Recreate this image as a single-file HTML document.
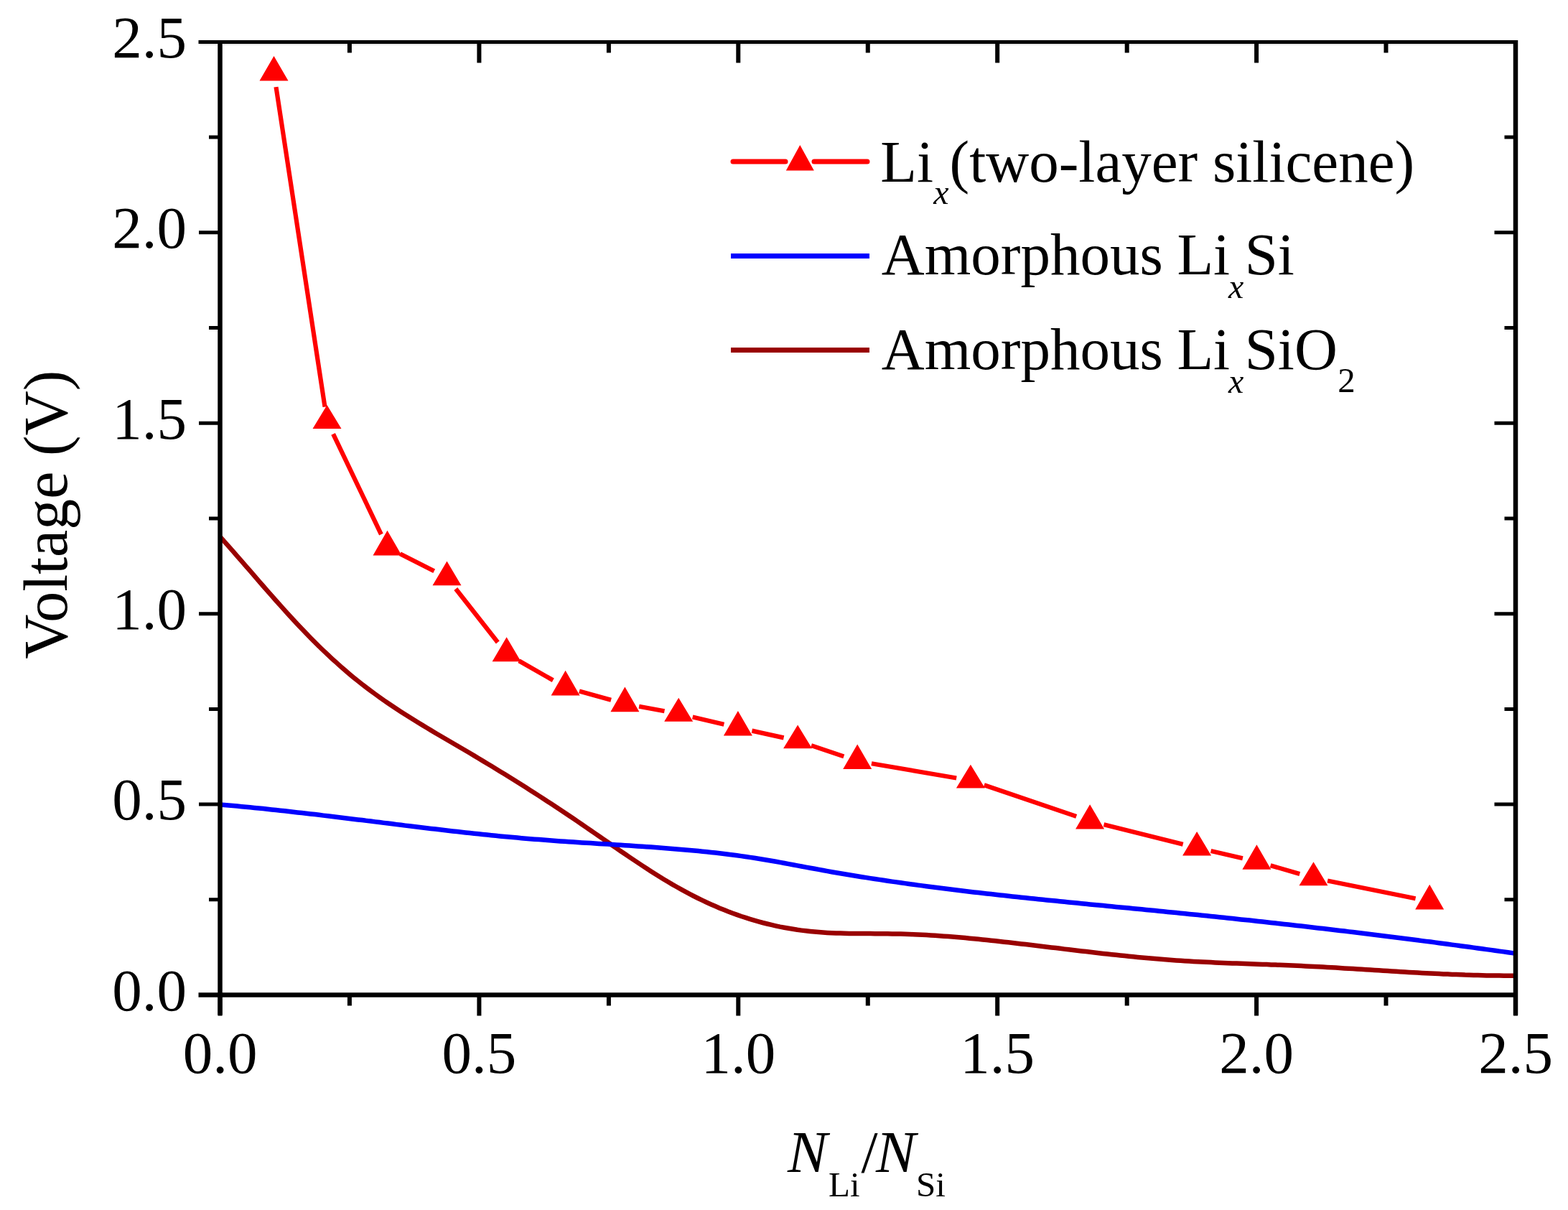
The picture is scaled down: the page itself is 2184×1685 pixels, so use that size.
<!DOCTYPE html><html><head><meta charset="utf-8"><title>Voltage vs N_Li/N_Si</title>
<style>html,body{margin:0;padding:0;background:#fff;}svg{display:block;}text{font-family:"Liberation Serif","Times New Roman",serif;fill:#000;}</style></head><body>
<svg width="2184" height="1685" viewBox="0 0 2184 1685">
<rect width="2184" height="1685" fill="#fff"/>
<defs><clipPath id="pc"><rect x="306.5" y="58.4" width="1804.5" height="1327.1"/></clipPath></defs>
<g clip-path="url(#pc)" fill="none" stroke-linejoin="round">
<path d="M306.5,747.5 312.5,754.2 318.5,760.9 324.5,767.7 330.5,774.6 336.5,781.4 342.5,788.3 348.5,795.2 354.5,802.2 360.5,809.1 366.5,816.0 372.5,822.8 378.5,829.7 384.5,836.5 390.5,843.2 396.5,849.9 402.5,856.5 408.5,863.0 414.5,869.5 420.5,875.8 426.5,882.1 432.5,888.2 438.5,894.3 444.5,900.2 450.5,906.0 456.5,911.7 462.5,917.3 468.5,922.7 474.5,928.1 480.5,933.3 486.5,938.4 492.5,943.4 498.5,948.2 504.5,953.0 510.5,957.6 516.5,962.1 522.5,966.5 528.5,970.8 534.5,975.1 540.5,979.2 546.5,983.3 552.5,987.3 558.5,991.2 564.5,995.0 570.5,998.8 576.5,1002.6 582.5,1006.3 588.5,1009.9 594.5,1013.5 600.5,1017.1 606.5,1020.7 612.5,1024.2 618.5,1027.7 624.5,1031.2 630.5,1034.7 636.5,1038.3 642.5,1041.8 648.5,1045.3 654.5,1048.8 660.5,1052.4 666.5,1056.0 672.5,1059.6 678.5,1063.2 684.5,1066.8 690.5,1070.5 696.5,1074.2 702.5,1077.8 708.5,1081.6 714.5,1085.3 720.5,1089.0 726.5,1092.8 732.5,1096.6 738.5,1100.4 744.5,1104.2 750.5,1108.1 756.5,1112.0 762.5,1115.9 768.5,1119.8 774.5,1123.8 780.5,1127.7 786.5,1131.7 792.5,1135.8 798.5,1139.8 804.5,1143.9 810.5,1148.0 816.5,1152.1 822.5,1156.2 828.5,1160.4 834.5,1164.5 840.5,1168.7 846.5,1172.8 852.5,1177.0 858.5,1181.1 864.5,1185.2 870.5,1189.3 876.5,1193.4 882.5,1197.4 888.5,1201.4 894.5,1205.4 900.5,1209.3 906.5,1213.2 912.5,1217.0 918.5,1220.7 924.5,1224.4 930.5,1228.0 936.5,1231.6 942.5,1235.0 948.5,1238.4 954.5,1241.7 960.5,1244.9 966.5,1248.0 972.5,1251.0 978.5,1253.9 984.5,1256.8 990.5,1259.5 996.5,1262.1 1002.5,1264.7 1008.5,1267.1 1014.5,1269.5 1020.5,1271.7 1026.5,1273.9 1032.5,1276.0 1038.5,1277.9 1044.5,1279.8 1050.5,1281.6 1056.5,1283.3 1062.5,1285.0 1068.5,1286.5 1074.5,1287.9 1080.5,1289.3 1086.5,1290.6 1092.5,1291.7 1098.5,1292.8 1104.5,1293.8 1110.5,1294.8 1116.5,1295.6 1122.5,1296.3 1128.5,1297.0 1134.5,1297.6 1140.5,1298.1 1146.5,1298.5 1152.5,1298.9 1158.5,1299.2 1164.5,1299.4 1170.5,1299.6 1176.5,1299.8 1182.5,1299.9 1188.5,1300.0 1194.5,1300.0 1200.5,1300.1 1206.5,1300.1 1212.5,1300.1 1218.5,1300.2 1224.5,1300.2 1230.5,1300.2 1236.5,1300.3 1242.5,1300.4 1248.5,1300.5 1254.5,1300.6 1260.5,1300.8 1266.5,1301.0 1272.5,1301.2 1278.5,1301.5 1284.5,1301.8 1290.5,1302.1 1296.5,1302.4 1302.5,1302.8 1308.5,1303.2 1314.5,1303.7 1320.5,1304.1 1326.5,1304.6 1332.5,1305.1 1338.5,1305.6 1344.5,1306.1 1350.5,1306.7 1356.5,1307.2 1362.5,1307.8 1368.5,1308.4 1374.5,1309.1 1380.5,1309.7 1386.5,1310.3 1392.5,1311.0 1398.5,1311.7 1404.5,1312.3 1410.5,1313.0 1416.5,1313.7 1422.5,1314.4 1428.5,1315.1 1434.5,1315.8 1440.5,1316.5 1446.5,1317.2 1452.5,1318.0 1458.5,1318.7 1464.5,1319.4 1470.5,1320.1 1476.5,1320.8 1482.5,1321.6 1488.5,1322.3 1494.5,1323.0 1500.5,1323.7 1506.5,1324.4 1512.5,1325.1 1518.5,1325.8 1524.5,1326.5 1530.5,1327.2 1536.5,1327.9 1542.5,1328.5 1548.5,1329.2 1554.5,1329.8 1560.5,1330.5 1566.5,1331.1 1572.5,1331.7 1578.5,1332.3 1584.5,1332.9 1590.5,1333.4 1596.5,1334.0 1602.5,1334.5 1608.5,1335.1 1614.5,1335.6 1620.5,1336.0 1626.5,1336.5 1632.5,1337.0 1638.5,1337.4 1644.5,1337.8 1650.5,1338.2 1656.5,1338.5 1662.5,1338.9 1668.5,1339.2 1674.5,1339.5 1680.5,1339.8 1686.5,1340.1 1692.5,1340.4 1698.5,1340.7 1704.5,1340.9 1710.5,1341.2 1716.5,1341.4 1722.5,1341.6 1728.5,1341.8 1734.5,1342.1 1740.5,1342.3 1746.5,1342.5 1752.5,1342.7 1758.5,1342.9 1764.5,1343.1 1770.5,1343.4 1776.5,1343.6 1782.5,1343.8 1788.5,1344.1 1794.5,1344.3 1800.5,1344.6 1806.5,1344.8 1812.5,1345.1 1818.5,1345.4 1824.5,1345.7 1830.5,1346.0 1836.5,1346.3 1842.5,1346.6 1848.5,1347.0 1854.5,1347.3 1860.5,1347.6 1866.5,1348.0 1872.5,1348.4 1878.5,1348.7 1884.5,1349.1 1890.5,1349.5 1896.5,1349.8 1902.5,1350.2 1908.5,1350.6 1914.5,1350.9 1920.5,1351.3 1926.5,1351.7 1932.5,1352.1 1938.5,1352.4 1944.5,1352.8 1950.5,1353.2 1956.5,1353.5 1962.5,1353.9 1968.5,1354.2 1974.5,1354.5 1980.5,1354.9 1986.5,1355.2 1992.5,1355.5 1998.5,1355.8 2004.5,1356.1 2010.5,1356.4 2016.5,1356.6 2022.5,1356.9 2028.5,1357.1 2034.5,1357.3 2040.5,1357.6 2046.5,1357.7 2052.5,1357.9 2058.5,1358.1 2064.5,1358.2 2070.5,1358.4 2076.5,1358.5 2082.5,1358.5 2088.5,1358.6 2094.5,1358.7 2100.5,1358.7 2106.5,1358.7 2111.0,1358.7" stroke="#990000" stroke-width="6.5"/>
<path d="M306.5,1120.5 312.5,1121.0 318.5,1121.6 324.5,1122.1 330.5,1122.6 336.5,1123.2 342.5,1123.8 348.5,1124.3 354.5,1124.9 360.5,1125.5 366.5,1126.1 372.5,1126.8 378.5,1127.4 384.5,1128.0 390.5,1128.7 396.5,1129.3 402.5,1130.0 408.5,1130.7 414.5,1131.4 420.5,1132.0 426.5,1132.7 432.5,1133.4 438.5,1134.1 444.5,1134.8 450.5,1135.6 456.5,1136.3 462.5,1137.0 468.5,1137.7 474.5,1138.5 480.5,1139.2 486.5,1139.9 492.5,1140.7 498.5,1141.4 504.5,1142.1 510.5,1142.9 516.5,1143.6 522.5,1144.4 528.5,1145.1 534.5,1145.9 540.5,1146.6 546.5,1147.3 552.5,1148.1 558.5,1148.8 564.5,1149.6 570.5,1150.3 576.5,1151.0 582.5,1151.7 588.5,1152.5 594.5,1153.2 600.5,1153.9 606.5,1154.6 612.5,1155.3 618.5,1156.0 624.5,1156.7 630.5,1157.4 636.5,1158.1 642.5,1158.7 648.5,1159.4 654.5,1160.0 660.5,1160.7 666.5,1161.3 672.5,1162.0 678.5,1162.6 684.5,1163.2 690.5,1163.8 696.5,1164.4 702.5,1165.0 708.5,1165.5 714.5,1166.1 720.5,1166.6 726.5,1167.2 732.5,1167.7 738.5,1168.2 744.5,1168.7 750.5,1169.1 756.5,1169.6 762.5,1170.1 768.5,1170.5 774.5,1170.9 780.5,1171.4 786.5,1171.8 792.5,1172.2 798.5,1172.6 804.5,1173.0 810.5,1173.4 816.5,1173.8 822.5,1174.1 828.5,1174.5 834.5,1174.9 840.5,1175.3 846.5,1175.6 852.5,1176.0 858.5,1176.4 864.5,1176.8 870.5,1177.2 876.5,1177.6 882.5,1178.0 888.5,1178.4 894.5,1178.8 900.5,1179.2 906.5,1179.6 912.5,1180.0 918.5,1180.5 924.5,1180.9 930.5,1181.4 936.5,1181.9 942.5,1182.4 948.5,1182.9 954.5,1183.4 960.5,1183.9 966.5,1184.5 972.5,1185.1 978.5,1185.7 984.5,1186.3 990.5,1186.9 996.5,1187.6 1002.5,1188.3 1008.5,1189.0 1014.5,1189.8 1020.5,1190.5 1026.5,1191.3 1032.5,1192.1 1038.5,1193.0 1044.5,1193.9 1050.5,1194.8 1056.5,1195.7 1062.5,1196.7 1068.5,1197.7 1074.5,1198.8 1080.5,1199.8 1086.5,1200.9 1092.5,1202.0 1098.5,1203.1 1104.5,1204.2 1110.5,1205.4 1116.5,1206.5 1122.5,1207.6 1128.5,1208.7 1134.5,1209.8 1140.5,1210.9 1146.5,1212.0 1152.5,1213.1 1158.5,1214.2 1164.5,1215.2 1170.5,1216.2 1176.5,1217.2 1182.5,1218.2 1188.5,1219.2 1194.5,1220.2 1200.5,1221.2 1206.5,1222.1 1212.5,1223.1 1218.5,1224.0 1224.5,1224.9 1230.5,1225.8 1236.5,1226.7 1242.5,1227.6 1248.5,1228.4 1254.5,1229.3 1260.5,1230.1 1266.5,1231.0 1272.5,1231.8 1278.5,1232.6 1284.5,1233.4 1290.5,1234.2 1296.5,1235.0 1302.5,1235.8 1308.5,1236.5 1314.5,1237.3 1320.5,1238.0 1326.5,1238.8 1332.5,1239.5 1338.5,1240.3 1344.5,1241.0 1350.5,1241.7 1356.5,1242.4 1362.5,1243.1 1368.5,1243.8 1374.5,1244.5 1380.5,1245.1 1386.5,1245.8 1392.5,1246.5 1398.5,1247.1 1404.5,1247.8 1410.5,1248.4 1416.5,1249.1 1422.5,1249.7 1428.5,1250.3 1434.5,1251.0 1440.5,1251.6 1446.5,1252.2 1452.5,1252.8 1458.5,1253.4 1464.5,1254.0 1470.5,1254.6 1476.5,1255.2 1482.5,1255.8 1488.5,1256.4 1494.5,1257.0 1500.5,1257.6 1506.5,1258.2 1512.5,1258.8 1518.5,1259.4 1524.5,1260.0 1530.5,1260.5 1536.5,1261.1 1542.5,1261.7 1548.5,1262.3 1554.5,1262.9 1560.5,1263.4 1566.5,1264.0 1572.5,1264.6 1578.5,1265.2 1584.5,1265.8 1590.5,1266.3 1596.5,1266.9 1602.5,1267.5 1608.5,1268.1 1614.5,1268.7 1620.5,1269.3 1626.5,1269.9 1632.5,1270.5 1638.5,1271.1 1644.5,1271.7 1650.5,1272.3 1656.5,1272.9 1662.5,1273.5 1668.5,1274.1 1674.5,1274.7 1680.5,1275.3 1686.5,1275.9 1692.5,1276.6 1698.5,1277.2 1704.5,1277.8 1710.5,1278.4 1716.5,1279.1 1722.5,1279.7 1728.5,1280.4 1734.5,1281.0 1740.5,1281.6 1746.5,1282.3 1752.5,1283.0 1758.5,1283.6 1764.5,1284.3 1770.5,1284.9 1776.5,1285.6 1782.5,1286.3 1788.5,1286.9 1794.5,1287.6 1800.5,1288.3 1806.5,1289.0 1812.5,1289.6 1818.5,1290.3 1824.5,1291.0 1830.5,1291.7 1836.5,1292.4 1842.5,1293.1 1848.5,1293.8 1854.5,1294.5 1860.5,1295.2 1866.5,1295.9 1872.5,1296.6 1878.5,1297.4 1884.5,1298.1 1890.5,1298.8 1896.5,1299.5 1902.5,1300.3 1908.5,1301.0 1914.5,1301.7 1920.5,1302.5 1926.5,1303.2 1932.5,1304.0 1938.5,1304.7 1944.5,1305.5 1950.5,1306.2 1956.5,1307.0 1962.5,1307.8 1968.5,1308.5 1974.5,1309.3 1980.5,1310.1 1986.5,1310.9 1992.5,1311.6 1998.5,1312.4 2004.5,1313.2 2010.5,1314.0 2016.5,1314.8 2022.5,1315.6 2028.5,1316.4 2034.5,1317.2 2040.5,1318.0 2046.5,1318.8 2052.5,1319.6 2058.5,1320.5 2064.5,1321.3 2070.5,1322.1 2076.5,1322.9 2082.5,1323.8 2088.5,1324.6 2094.5,1325.4 2100.5,1326.3 2106.5,1327.1 2111.0,1327.8" stroke="#0000ff" stroke-width="6.5"/>
</g>
<path d="M384.5,121.1L452.5,566.6M464.1,604.4L530.9,744.1M557.3,771.2L604.7,795.2M634.8,820.0L693.3,894.5M722.9,920.2L770.3,947.3M806.9,962.5L851.1,974.7M890.1,983.7L925.5,990.3M964.7,998.6L1008.4,1008.8M1047.4,1017.6L1091.6,1027.4M1130.0,1038.1L1175.3,1053.4M1213.9,1063.2L1332.2,1083.5M1370.8,1093.3L1499.2,1136.9M1537.5,1148.2L1647.7,1175.8M1686.6,1185.0L1730.9,1195.2M1769.6,1205.2L1810.3,1216.9M1849.1,1226.5L1971.6,1251.2" stroke="#ff0000" stroke-width="6.2" fill="none" stroke-linecap="butt"/>
<path d="M381.5,78.1L361.5,112.5L401.5,112.5ZM455.5,564.1L435.5,597.1L475.5,597.1ZM539.5,738.7L519.5,773.4L559.5,773.4ZM622.5,781.4L602.5,815.2L642.5,815.2ZM705.6,887.3L685.6,921.2L725.6,921.2ZM787.6,933.8L767.6,968.5L807.6,968.5ZM870.4,956.6L850.4,991.3L890.4,991.3ZM945.2,971.7L925.2,1004.7L965.2,1004.7ZM1027.9,989.9L1007.9,1024.6L1047.9,1024.6ZM1111.1,1009.6L1091.1,1042.3L1131.1,1042.3ZM1194.2,1036.4L1174.2,1071.1L1214.2,1071.1ZM1351.9,1064.8L1331.9,1097.5L1371.9,1097.5ZM1518.1,1120.2L1498.1,1154.5L1538.1,1154.5ZM1667.1,1157.9L1647.1,1191.5L1687.1,1191.5ZM1750.4,1176.3L1730.4,1210.8L1770.4,1210.8ZM1829.5,1200.2L1809.5,1233.2L1849.5,1233.2ZM1991.2,1231.7L1971.2,1266.4L2011.2,1266.4Z" fill="#ff0000"/>
<rect x="278.5" y="61" width="24" height="2" fill="#e8e8e8"/><rect x="311" y="61" width="1797" height="2" fill="#e8e8e8"/>
<g stroke="#000" fill="none">
<line x1="276.5" y1="58.4" x2="2114.0" y2="58.4" stroke-width="5"/>
<line x1="276.5" y1="1385.5" x2="2114.0" y2="1385.5" stroke-width="6.5"/>
<line x1="306.5" y1="55.9" x2="306.5" y2="1413.5" stroke-width="6.5"/>
<line x1="2111.0" y1="55.9" x2="2111.0" y2="1413.5" stroke-width="6.5"/>
<path d="M306.5,1385.5V1414.5M486.9,1385.5V1400.5M486.9,58.4V73.4M667.4,1385.5V1414.5M667.4,58.4V87.4M847.9,1385.5V1400.5M847.9,58.4V73.4M1028.3,1385.5V1414.5M1028.3,58.4V87.4M1208.8,1385.5V1400.5M1208.8,58.4V73.4M1389.2,1385.5V1414.5M1389.2,58.4V87.4M1569.7,1385.5V1400.5M1569.7,58.4V73.4M1750.1,1385.5V1414.5M1750.1,58.4V87.4M1930.5,1385.5V1400.5M1930.5,58.4V73.4M2111.0,1385.5V1414.5" stroke-width="6"/>
<path d="M306.5,1385.5H277.0M306.5,1252.8H291.0M2111.0,1252.8H2095.5M306.5,1120.1H277.0M2111.0,1120.1H2081.5M306.5,987.4H291.0M2111.0,987.4H2095.5M306.5,854.7H277.0M2111.0,854.7H2081.5M306.5,722.0H291.0M2111.0,722.0H2095.5M306.5,589.2H277.0M2111.0,589.2H2081.5M306.5,456.5H291.0M2111.0,456.5H2095.5M306.5,323.8H277.0M2111.0,323.8H2081.5M306.5,191.1H291.0M2111.0,191.1H2095.5M306.5,58.4H277.0" stroke-width="5"/>
</g>
<text x="306.5" y="1494.4" font-size="83" text-anchor="middle">0.0</text>
<text x="260.0" y="1406.8" font-size="83" text-anchor="end">0.0</text>
<text x="667.4" y="1494.4" font-size="83" text-anchor="middle">0.5</text>
<text x="260.0" y="1141.4" font-size="83" text-anchor="end">0.5</text>
<text x="1028.3" y="1494.4" font-size="83" text-anchor="middle">1.0</text>
<text x="260.0" y="876.0" font-size="83" text-anchor="end">1.0</text>
<text x="1389.2" y="1494.4" font-size="83" text-anchor="middle">1.5</text>
<text x="260.0" y="610.5" font-size="83" text-anchor="end">1.5</text>
<text x="1750.1" y="1494.4" font-size="83" text-anchor="middle">2.0</text>
<text x="260.0" y="345.1" font-size="83" text-anchor="end">2.0</text>
<text x="2111.0" y="1494.4" font-size="83" text-anchor="middle">2.5</text>
<text x="260.0" y="79.7" font-size="83" text-anchor="end">2.5</text>
<text transform="translate(93.1,716.7) rotate(-90)" font-size="86" text-anchor="middle">Voltage (V)</text>
<text font-size="83"><tspan x="1097" y="1632.3" font-style="italic">N</tspan><tspan x="1154" y="1665.7" font-size="49">Li</tspan><tspan x="1199.5" y="1632.3">/</tspan><tspan x="1220" y="1632.3" font-style="italic">N</tspan><tspan x="1276" y="1665.7" font-size="49">Si</tspan></text>
<g fill="none" stroke-width="7" stroke-linecap="round">
<path d="M1021,225H1094M1134,225H1208" stroke="#ff0000"/>
<path d="M1018,356.5H1211" stroke="#0000ff" stroke-linecap="butt"/>
<path d="M1018,487.4H1211" stroke="#990000" stroke-linecap="butt"/>
</g>
<path d="M1114.3,202L1094.8,237.4L1133.8,237.4Z" fill="#ff0000"/>
<text font-size="83"><tspan x="1226.2" y="252.5">Li</tspan><tspan x="1300.3" y="284.4" font-size="48" font-style="italic">x</tspan><tspan x="1322.6" y="252.5">(two-layer silicene)</tspan></text>
<text font-size="83"><tspan x="1227.8" y="382.1">Amorphous</tspan><tspan x="1639.4" y="382.1">Li</tspan><tspan x="1711" y="414.6" font-size="48" font-style="italic">x</tspan><tspan x="1733.7" y="382.1">Si</tspan></text>
<text font-size="83"><tspan x="1227.8" y="514.4">Amorphous</tspan><tspan x="1639.4" y="514.4">Li</tspan><tspan x="1711" y="546.9" font-size="48" font-style="italic">x</tspan><tspan x="1733.7" y="514.4">SiO</tspan><tspan x="1863.3" y="545.8" font-size="49">2</tspan></text>
</svg></body></html>
